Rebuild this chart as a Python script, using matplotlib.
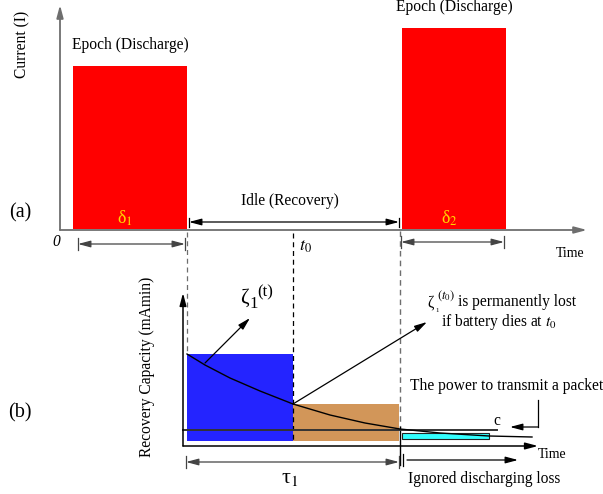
import matplotlib
matplotlib.use("Agg")
import matplotlib.pyplot as plt
from matplotlib.transforms import Affine2D
from matplotlib.patches import Rectangle

plt.rcParams['font.family'] = ['Liberation Serif', 'DejaVu Serif']
plt.rcParams['mathtext.fontset'] = 'stix'

# ---------------- data ----------------
# Panel (a): time (px units from origin) vs current
epoch_labels = ['Epoch (Discharge)', 'Epoch (Discharge)']
epoch_start = [13, 342]
epoch_end = [127, 446]
epoch_current = [164, 202]
delta_labels = ['δ$_1$', 'δ$_2$']
idle_start, idle_end = 129, 339
t0_a = 233

# Panel (b): time vs recovery capacity
block_start = [4, 110]
block_end = [110, 216]
block_top = [92, 42]
block_bottom = 5
block_colors = ['#2424ff', '#d29659']
packet_start, packet_end = 219, 306
packet_low, packet_high = 7, 13.5
c_level = 16
c_line_end = 314
curve_t = [4, 22, 47, 77, 110, 147, 182, 217, 257, 306, 349]
curve_v = [92, 81, 68, 55, 42, 31, 23, 17, 13, 10, 9]
tau_end = 216

W, H = 603, 494
fig = plt.figure(figsize=(W / 100, H / 100), dpi=100)
ax = fig.add_axes([0, 0, 1, 1])
ax.set_xlim(0, W)
ax.set_ylim(H, 0)
ax.axis('off')

ta = Affine2D().scale(1, -1).translate(60, 230) + ax.transData
tb = Affine2D().scale(1, -1).translate(183, 446) + ax.transData
tp = ax.transData

FS = 11.2


def arrow(p0, p1, tr, color='black', lw=0.9, style='-|>', hl=0.75, hw=0.2):
    ax.annotate('', xy=p1, xytext=p0, xycoords=tr, textcoords=tr,
                arrowprops=dict(arrowstyle=f'{style},head_length={hl},head_width={hw}',
                                color=color, lw=lw, shrinkA=0, shrinkB=0,
                                mutation_scale=10), annotation_clip=False)


def dim(x0, x1, y, tr, color='black', tick=6):
    arrow((x0, y), (x1, y), tr, color=color, style='<|-|>')
    ax.plot([x0, x0], [y - tick, y + tick], color=color, lw=0.9, transform=tr)
    ax.plot([x1, x1], [y - tick, y + tick], color=color, lw=0.9, transform=tr)


# ---------------- panel (a) ----------------
grey = '#6e6e6e'
for s, e, c, lab, dl in zip(epoch_start, epoch_end, epoch_current, epoch_labels, delta_labels):
    ax.add_patch(Rectangle((s, 1), e - s, c - 1, facecolor='#ff0000', edgecolor='none', transform=ta))
    ax.text((s + e) / 2, c + 21, lab, transform=ta, ha='center', va='center', fontsize=FS)
    ax.text((s + e) / 2 - 5, 12, dl, transform=ta, ha='center', va='center', fontsize=13, color='#ffd700')

arrow((0, 0), (527, 0), ta, color=grey, lw=1.3)
arrow((0, 0), (0, 225), ta, color=grey, lw=1.3)

dim(epoch_start[0] + 5, epoch_end[0] - 2, -14, ta, color='#444444')
dim(epoch_start[1] - 1, epoch_end[1] - 2, -12, ta, color='#444444')
dim(idle_start, idle_end, 8, ta, color='black', tick=4.5)
ax.text((idle_start + idle_end) / 2 - 4, 29, 'Idle (Recovery)', transform=ta, ha='center', va='center', fontsize=FS)
ax.plot([t0_a, t0_a], [-3, -210], transform=ta, color='black', lw=0.9, ls=(0, (4, 3)))
ax.text(t0_a + 12, -16, r'$t_0$', transform=ta, ha='center', va='center', fontsize=13)
ax.text(-4, -12, '0', transform=ta, ha='center', va='center', fontsize=FS, fontstyle='italic')
ax.text(510, -23, 'Time', transform=ta, ha='center', va='center', fontsize=10)
ax.text(22, 44, 'Current (I)', transform=tp, ha='center', va='center', rotation=90, fontsize=FS)
ax.text(20, 213, '(a)', transform=tp, ha='center', va='center', fontsize=14.5)

# vertical guides crossing panels
ax.plot([187, 187], [232, 354], transform=tp, color=grey, lw=0.9, ls=(0, (4, 3)))
ax.plot([400, 400], [231, 427], transform=tp, color=grey, lw=1.0, ls=(0, (4, 3)))
ax.plot([400, 400], [427, 465], transform=tp, color='black', lw=1.0)

# ---------------- panel (b) ----------------
for s, e, top, col in zip(block_start, block_end, block_top, block_colors):
    ax.add_patch(Rectangle((s, block_bottom), e - s, top - block_bottom, facecolor=col,
                           edgecolor='none', transform=tb))
ax.add_patch(Rectangle((packet_start, packet_low), packet_end - packet_start, packet_high - packet_low,
                       facecolor='#33ffff', edgecolor='#222222', lw=0.8, transform=tb))
ax.plot([0, c_line_end], [c_level, c_level], transform=tb, color='#333333', lw=1.4)
ax.plot(curve_t, curve_v, transform=tb, color='black', lw=1.0)

arrow((0, 0), (355, 0), tb, color='black', lw=1.1)
arrow((0, 0), (0, 153), tb, color='black', lw=1.1)

ax.text(147, 367, 'Recovery Capacity (mAmin)', transform=tp, ha='center', va='center', rotation=90, fontsize=FS)
ax.text(20, 413, '(b)', transform=tp, ha='center', va='center', fontsize=14.5)

# zeta_1(t) arrow
arrow((curve_t[1], curve_v[1] + 2), (67, 128), tb)
ax.text(244, 298, 'ζ', transform=tp, ha='center', va='center', fontsize=15)
ax.text(254, 304, '1', transform=tp, ha='center', va='center', fontsize=12)
ax.text(265, 292, '(t)', transform=tp, ha='center', va='center', fontsize=12)

# lost capacity arrow
arrow((block_end[0], block_top[1]), (244, 124), tb)
ax.text(431, 302, 'ζ', transform=tp, ha='center', va='center', fontsize=FS)
ax.text(437.5, 310, '1', transform=tp, ha='center', va='center', fontsize=5)
ax.text(446, 296, r'$(t_0)$', transform=tp, ha='center', va='center', fontsize=9)
ax.text(458, 302, 'is permanently lost', transform=tp, ha='left', va='center', fontsize=FS)
ax.text(499, 322, r'if battery dies at $t_0$', transform=tp, ha='center', va='center', fontsize=FS)

# packet power
ax.text(410, 386, 'The power to transmit a packet', transform=tp, ha='left', va='center', fontsize=FS)
ax.plot([538, 538], [400, 427], transform=tp, color='black', lw=0.9)
arrow((538, 427), (510, 427), tp)
ax.text(497, 421, 'c', transform=tp, ha='center', va='center', fontsize=FS)
ax.text(538, 454, 'Time', transform=tp, ha='left', va='center', fontsize=10)

# tau arrow & ignored loss
dim(block_start[0] - 1, tau_end, -16, tb, color='#444444')
ax.text(290, 478, 'τ$_1$', transform=tp, ha='center', va='center', fontsize=16)
ax.plot([403, 403], [454, 466], transform=tp, color='black', lw=0.9)
arrow((407, 460), (518, 460), tp)
ax.text(484, 479, 'Ignored discharging loss', transform=tp, ha='center', va='center', fontsize=FS)

fig.savefig('out.png', dpi=100)
